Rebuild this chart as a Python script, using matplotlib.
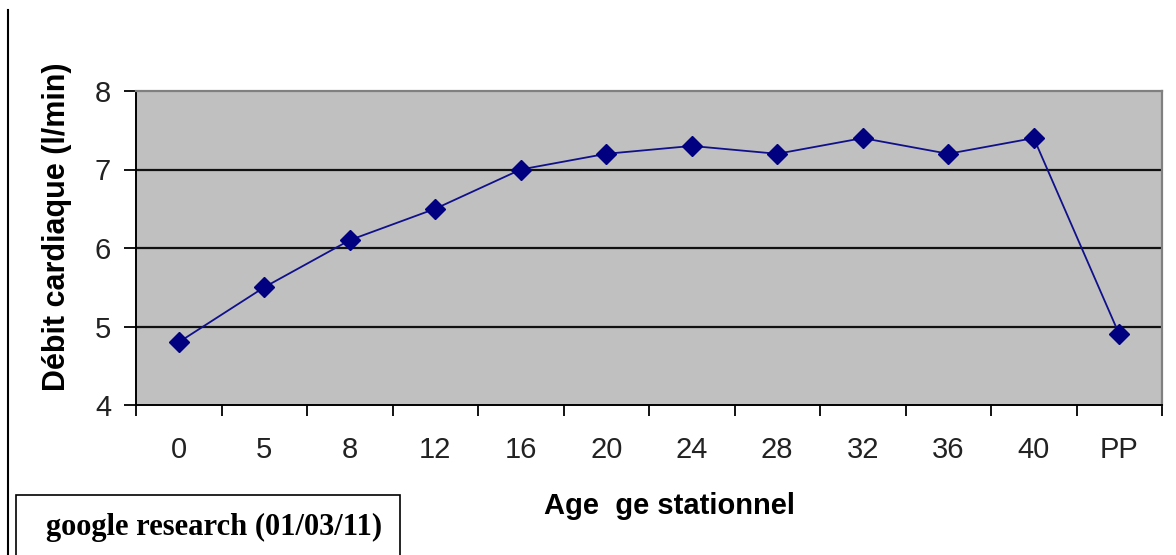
import matplotlib
matplotlib.use("Agg")
import matplotlib.pyplot as plt
from matplotlib.patches import Rectangle
from matplotlib.lines import Line2D

categories = ["0", "5", "8", "12", "16", "20", "24", "28", "32", "36", "40", "PP"]
debit = [4.8, 5.5, 6.1, 6.5, 7.0, 7.2, 7.3, 7.2, 7.4, 7.2, 7.4, 4.9]
y_ticks = [4, 5, 6, 7, 8]

W, H = 1176, 555
fig = plt.figure(figsize=(W / 100, H / 100), dpi=100)
fig.patch.set_facecolor("white")

ax_left, ax_right, ax_top, ax_bottom = 136, 1162, 91, 405
ax = fig.add_axes([ax_left / W, 1 - ax_bottom / H, (ax_right - ax_left) / W,
                   (ax_bottom - ax_top) / H])
ax.set_facecolor("#C0C0C0")

x = list(range(len(categories)))
ax.plot(x, debit, color="#10108A", lw=1.3, marker="D", markersize=10,
        markerfacecolor="#000080", markeredgecolor="#000080", zorder=3)

ax.set_xlim(-0.5, len(categories) - 0.5)
ax.set_ylim(4, 8)
ax.set_yticks(y_ticks)
ax.set_yticklabels([str(t) for t in y_ticks])
for t in [5, 6, 7]:
    ax.axhline(t, color="#111111", lw=1.6, zorder=1)

ax.set_xticks(x)
ax.set_xticklabels(categories)
ax.set_xticks([i - 0.5 for i in range(len(categories) + 1)], minor=True)
ax.tick_params(axis="x", which="major", length=0, pad=22)
ax.tick_params(axis="x", which="minor", length=8, width=1.3, direction="out", color="black")
ax.tick_params(axis="y", length=9, width=1.3, direction="out", pad=9)

for lab in ax.get_xticklabels() + ax.get_yticklabels():
    lab.set_fontfamily("Liberation Sans")
    lab.set_fontsize(21)
    lab.set_color("#222222")

ax.spines["left"].set_color("black")
ax.spines["left"].set_linewidth(1.4)
ax.spines["bottom"].set_color("black")
ax.spines["bottom"].set_linewidth(1.4)
ax.spines["top"].set_color("#808080")
ax.spines["right"].set_color("#808080")
ax.spines["top"].set_linewidth(1.6)
ax.spines["right"].set_linewidth(1.6)

aw, ah = ax_right - ax_left, ax_bottom - ax_top
ax.set_ylabel("Débit cardiaque (l/min)", fontfamily="Liberation Sans",
              fontweight="bold", fontsize=22)
ax.yaxis.set_label_coords((72 - ax_left) / aw, (ax_bottom - 227) / ah)
ax.set_xlabel("Age  ge stationnel", fontfamily="Liberation Sans",
              fontweight="bold", fontsize=21)
ax.xaxis.set_label_coords((669 - ax_left) / aw, (ax_bottom - 492) / ah)

# left vertical border line
fig.add_artist(Line2D([8 / W, 8 / W], [0, 1 - 10 / H], color="black", lw=1.5,
                      transform=fig.transFigure))

# text box
fig.add_artist(Rectangle((16 / W, -0.01), (400 - 16) / W, (555 - 495) / H + 0.01,
                         transform=fig.transFigure, facecolor="white",
                         edgecolor="black", lw=1.2))
fig.text(46 / W, 1 - 527 / H, "google research (01/03/11)", fontfamily="Liberation Serif",
         fontweight="bold", fontsize=22, va="center", ha="left")

fig.savefig("out.png", dpi=100, facecolor="white")
